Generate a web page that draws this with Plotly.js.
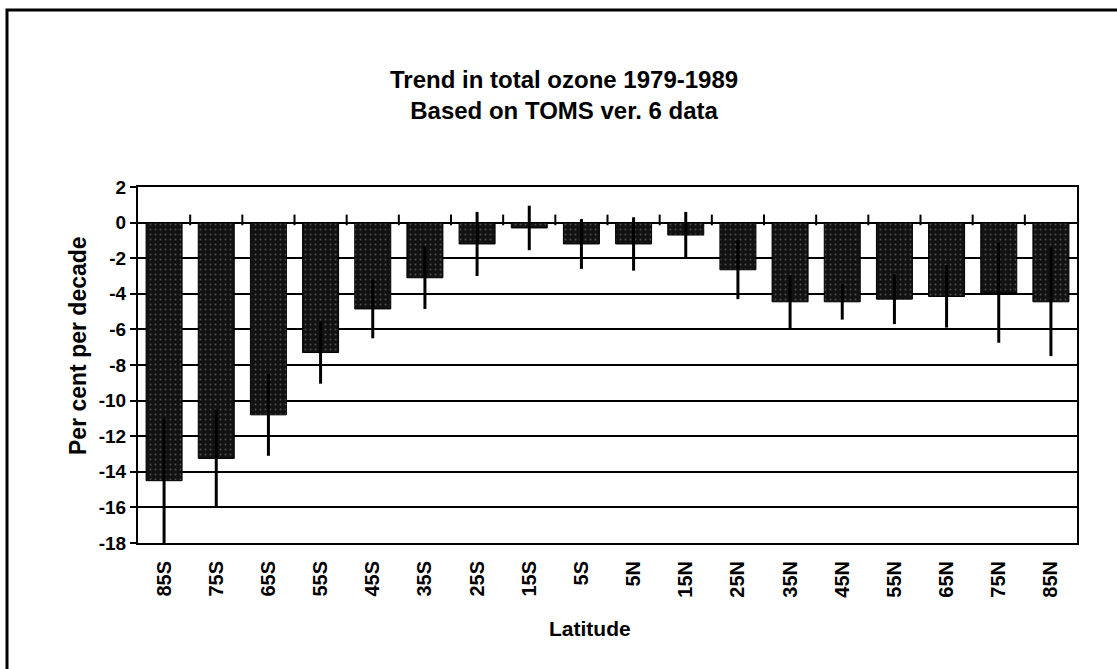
<!DOCTYPE html>
<html>
<head>
<meta charset="utf-8">
<script src="https://cdn.plot.ly/plotly-3.0.1.min.js"></script>
<style>
  html, body { margin: 0; padding: 0; background: #fff; }
  #chart { width: 1117px; height: 669px; }
</style>
</head>
<body>
<div id="chart"></div>
<script>
const latitudes = ['85S','75S','65S','55S','45S','35S','25S','15S','5S','5N','15N','25N','35N','45N','55N','65N','75N','85N'];
const trend = [-14.5, -13.25, -10.8, -7.3, -4.85, -3.1, -1.2, -0.3, -1.2, -1.2, -0.7, -2.65, -4.45, -4.45, -4.3, -4.15, -3.95, -4.45];
const trendError = [3.5, 2.75, 2.3, 1.75, 1.65, 1.75, 1.8, 1.25, 1.4, 1.5, 1.3, 1.65, 1.5, 1.0, 1.4, 1.75, 2.8, 3.05];
const yTickValues = [2, 0, -2, -4, -6, -8, -10, -12, -14, -16, -18];

const FONT = '"Liberation Sans", Arial, sans-serif';

const traces = [
  {
    type: 'bar',
    x: latitudes,
    y: trend,
    marker: {
      color: '#121212',
      line: { color: '#000', width: 1 },
      pattern: { shape: '.', fillmode: 'overlay', fgcolor: '#8a8a8a', size: 5, solidity: 0.12 }
    },
    error_y: { type: 'data', array: trendError, symmetric: true, color: '#000', thickness: 3, width: 0 },
    hoverinfo: 'x+y',
    showlegend: false
  }
];

// category-boundary tick marks along the zero line (Excel-style crossing axis)
const boundaryTicks = [];
for (let i = 1; i < latitudes.length; i++) {
  boundaryTicks.push({
    type: 'line', xref: 'x', yref: 'y',
    x0: i - 0.5, x1: i - 0.5, y0: -0.15, y1: 0.45,
    line: { color: '#000', width: 2 },
    layer: 'above'
  });
}

const layout = {
  width: 1117,
  height: 669,
  paper_bgcolor: '#fff',
  plot_bgcolor: '#fff',
  margin: { l: 138, r: 40, t: 187, b: 126 },
  font: { family: FONT, color: '#000', size: 16 },
  bargap: 0.31,
  title: {
    text: '<b>Trend in total ozone 1979-1989<br>Based on TOMS ver. 6 data</b>',
    font: { family: FONT, size: 24, color: '#000' },
    x: 0.505, xref: 'container', xanchor: 'center',
    y: 1 - 88 / 669, yref: 'container', yanchor: 'middle'
  },
  xaxis: {
    type: 'category',
    categoryarray: latitudes,
    range: [-0.5, latitudes.length - 0.5],
    showline: true, mirror: true, linecolor: '#000', linewidth: 2,
    showgrid: false, zeroline: false,
    ticks: '',
    tickangle: -90,
    ticklabelstandoff: 8,
    tickfont: { family: FONT, size: 20, color: '#000', weight: 'bold' }
  },
  yaxis: {
    range: [-18, 2],
    tickvals: yTickValues,
    ticktext: yTickValues.map(String),
    showline: true, mirror: true, linecolor: '#000', linewidth: 2,
    showgrid: true, gridcolor: '#000', gridwidth: 2,
    zeroline: true, zerolinecolor: '#000', zerolinewidth: 2,
    ticks: 'outside', ticklen: 6, tickwidth: 2, tickcolor: '#000',
    tickfont: { family: FONT, size: 19, color: '#000', weight: 'bold' }
  },
  annotations: [
    {
      text: '<b>Per cent per decade</b>',
      xref: 'paper', yref: 'paper',
      x: (78 - 138) / 939, y: (543 - 346) / 356,
      xanchor: 'center', yanchor: 'middle',
      textangle: -90, showarrow: false,
      font: { family: FONT, size: 23, color: '#000' }
    },
    {
      text: '<b>Latitude</b>',
      xref: 'paper', yref: 'paper',
      x: (590 - 138) / 939, y: (543 - 628) / 356,
      xanchor: 'center', yanchor: 'middle',
      showarrow: false,
      font: { family: FONT, size: 21, color: '#000' }
    }
  ],
  shapes: [
    {
      type: 'rect', xref: 'paper', yref: 'paper',
      x0: (7 - 138) / 939, x1: 1.2,
      y0: -0.5, y1: (543 - 10) / 356,
      line: { color: '#000', width: 3 },
      fillcolor: 'rgba(0,0,0,0)',
      layer: 'below'
    }
  ].concat(boundaryTicks)
};

Plotly.newPlot('chart', traces, layout, { displayModeBar: false, staticPlot: true });
</script>
</body>
</html>
